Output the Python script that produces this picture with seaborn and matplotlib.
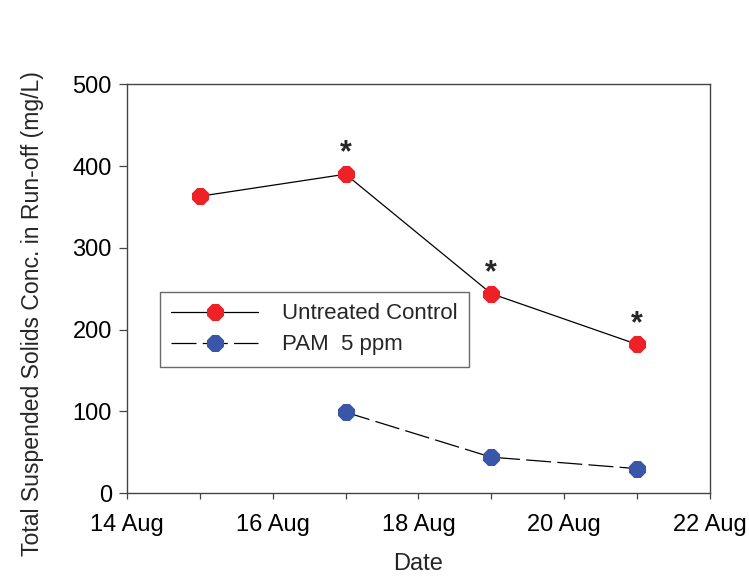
import pandas as pd
import matplotlib.pyplot as plt
import matplotlib.dates as mdates
import seaborn as sns

# data
control_dates = ['2008-08-15', '2008-08-17', '2008-08-19', '2008-08-21']
control_tss = [363, 390, 244, 182]
pam_dates = ['2008-08-17', '2008-08-19', '2008-08-21']
pam_tss = [99, 44, 30]
signif_dates = ['2008-08-17', '2008-08-19', '2008-08-21']
signif_tss = [390, 244, 182]

sns.set_style('white')
plt.rcParams['font.family'] = ['Liberation Sans', 'DejaVu Sans']

df_c = pd.DataFrame({'Date': pd.to_datetime(control_dates), 'TSS': control_tss})
df_p = pd.DataFrame({'Date': pd.to_datetime(pam_dates), 'TSS': pam_tss})

fig = plt.figure(figsize=(7.49, 5.85), dpi=100)
ax = fig.add_axes([0.1696, 0.157, 0.778, 0.699])

sns.lineplot(data=df_c, x='Date', y='TSS', ax=ax, color='black', lw=0.9,
             marker='8', markersize=13, markerfacecolor='#ee2226',
             markeredgecolor='#ee2226', label='Untreated Control')
sns.lineplot(data=df_p, x='Date', y='TSS', ax=ax, color='black', lw=0.9,
             marker='8', markersize=13, markerfacecolor='#3a56a8',
             markeredgecolor='#3a56a8', label='PAM  5 ppm')
ax.lines[1].set_dashes([20, 5])

# asterisks for significant differences
for d, v in zip(pd.to_datetime(signif_dates), signif_tss):
    ax.annotate('*', (d, v), xytext=(0, 4), textcoords='offset points',
                ha='center', va='bottom', fontsize=22, fontweight='bold')

ax.set_xlim(pd.Timestamp('2008-08-14'), pd.Timestamp('2008-08-22'))
ax.set_ylim(0, 500)
ax.set_yticks([0, 100, 200, 300, 400, 500])
ax.xaxis.set_major_locator(mdates.DayLocator(bymonthday=[14, 16, 18, 20, 22]))
ax.xaxis.set_minor_locator(mdates.DayLocator())
ax.xaxis.set_major_formatter(mdates.DateFormatter('%-d %b'))
ax.tick_params(axis='both', which='both', direction='out', width=0.9,
               labelsize=17, bottom=True, left=True, color='#444444',
               labelcolor='black')
ax.tick_params(axis='x', which='both', length=4, pad=11)
ax.tick_params(axis='y', length=6, pad=5)
for s in ax.spines.values():
    s.set_color('#444444')
    s.set_linewidth(1.0)

ax.set_xlabel('Date', fontsize=17, labelpad=12)
ax.set_ylabel('Total Suspended Solids Conc. in Run-off (mg/L)', fontsize=16.6)
ax.yaxis.set_label_coords(-0.143, 0.44)

leg = ax.legend(loc='upper left', bbox_to_anchor=(0.057, 0.491), borderaxespad=0,
                fontsize=16, frameon=True, fancybox=False, edgecolor='#444444',
                handlelength=3.9, handletextpad=1.1, borderpad=0.5,
                labelspacing=0.45)
leg.get_frame().set_linewidth(1.0)

fig.savefig('out.png', dpi=100)
